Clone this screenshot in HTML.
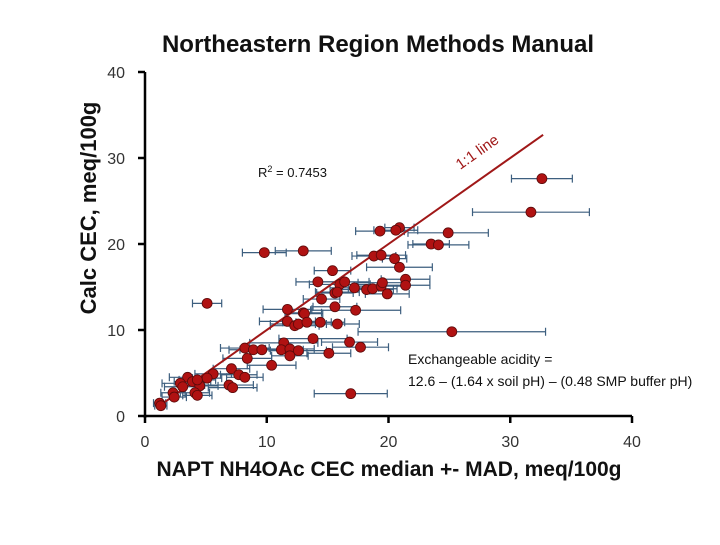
<!DOCTYPE html>
<html><head><meta charset="utf-8"><style>
body{margin:0;background:#fff;}
svg text{font-family:"Liberation Sans",sans-serif;}
</style></head><body>
<svg id="chart" width="720" height="540" xmlns="http://www.w3.org/2000/svg">
<text x="378" y="52" text-anchor="middle" font-size="24" font-weight="bold" fill="#111">Northeastern Region Methods Manual</text>
<text transform="translate(96,208) rotate(-90)" text-anchor="middle" font-size="22" font-weight="bold" fill="#111">Calc CEC, meq/100g</text>
<text x="389" y="476" text-anchor="middle" font-size="21" font-weight="bold" fill="#111">NAPT NH4OAc CEC median +- MAD, meq/100g</text>
<text x="258" y="177" font-size="13" fill="#111">R<tspan font-size="9" dy="-5">2</tspan><tspan dy="5"> = 0.7453</tspan></text>
<text transform="translate(480,156) rotate(-35.2)" text-anchor="middle" font-size="15" fill="#a01818">1:1 line</text>
<text x="408" y="364" font-size="14" fill="#111">Exchangeable acidity =</text>
<text x="408" y="386" font-size="14" fill="#111">12.6 – (1.64 x soil pH) – (0.48 SMP buffer pH)</text>
<g id="axes"></g><g id="bars"></g><g id="line"></g><g id="pts"></g>
</svg>
<script>
const xTicks=[0,10,20,30,40];
const yTicks=[0,10,20,30,40];
const xVals=[32.6,31.7,24.9,20.9,20.6,19.3,23.5,24.1,9.8,13.0,18.8,19.4,20.5,20.9,15.4,14.2,16.0,16.4,17.2,18.2,18.7,19.4,19.5,19.9,21.4,21.4,15.6,15.8,14.5,5.1,15.6,17.3,11.7,13.0,13.1,11.7,12.3,12.6,13.3,14.4,15.8,13.8,16.8,17.7,25.2,11.4,11.2,11.9,12.6,15.1,8.2,8.9,9.6,8.4,11.9,10.4,7.1,5.6,5.1,7.7,8.2,6.9,7.2,3.5,3.9,2.9,3.1,4.5,4.3,2.3,2.4,4.1,4.3,16.9,1.2,1.3];
const yVals=[27.6,23.7,21.3,21.9,21.6,21.5,20.0,19.9,19.0,19.2,18.6,18.7,18.3,17.3,16.9,15.6,15.3,15.6,14.9,14.7,14.8,15.1,15.5,14.2,15.9,15.2,14.3,14.4,13.6,13.1,12.7,12.3,12.4,12.0,11.9,11.0,10.5,10.7,10.9,10.9,10.7,9.0,8.6,8.0,9.8,8.5,7.7,7.8,7.6,7.3,7.9,7.7,7.7,6.7,7.0,5.9,5.5,4.9,4.4,4.8,4.5,3.6,3.3,4.5,4.0,3.8,3.4,3.5,4.2,2.7,2.2,2.7,2.4,2.6,1.5,1.2];
const xErr=[2.5,4.8,3.3,1.2,1.8,2.0,1.5,2.5,1.8,2.3,1.8,2.0,1.0,2.7,1.5,1.8,2.5,2.0,2.0,2.2,2.0,2.0,2.0,1.8,2.0,2.0,1.5,1.8,1.5,1.2,1.8,3.7,2.0,1.5,1.5,2.3,2.0,2.3,2.0,2.0,1.8,2.8,2.3,2.3,7.7,2.8,1.8,2.0,2.3,1.8,2.0,2.0,1.8,2.0,1.5,2.0,1.5,1.5,1.2,1.5,1.5,2.0,2.0,1.5,1.5,1.5,1.5,1.5,1.5,1.0,1.0,1.2,1.2,3.0,0.5,0.5];
const lineRange=[1,32.7];
const NS="http://www.w3.org/2000/svg";
const X0=145,X1=632,Y0=416,Y1=72;
function sx(v){return X0+(v-0)/(40-0)*(X1-X0);}
function sy(v){return Y0-(v-0)/(40-0)*(Y0-Y1);}
function mk(tag,attrs,parent){const e=document.createElementNS(NS,tag);for(const k in attrs)e.setAttribute(k,attrs[k]);document.getElementById(parent).appendChild(e);return e;}
let e;
e=mk('line',{x1:X0,y1:Y0,x2:X1,y2:Y0,stroke:'#000','stroke-width':2.5},'axes');


e=mk('line',{x1:X0,y1:Y0+2,x2:X0,y2:Y1,stroke:'#000','stroke-width':2.5},'axes');


xTicks.forEach(t=>{
 e=mk('line',{x1:sx(t),y1:Y0,x2:sx(t),y2:Y0+7,stroke:'#000','stroke-width':2.5},'axes');
 
 
 e=mk('text',{x:sx(t),y:Y0+31,'text-anchor':'middle','font-size':16,fill:'#333'},'axes');e.textContent=t;
 
 
});
yTicks.forEach(t=>{
 e=mk('line',{x1:X0-7,y1:sy(t),x2:X0,y2:sy(t),stroke:'#000','stroke-width':2.5},'axes');
 
 
 e=mk('text',{x:X0-20,y:sy(t)+6,'text-anchor':'end','font-size':16,fill:'#333'},'axes');e.textContent=t;
 
 
});
e=mk('line',{x1:sx(lineRange[0]),y1:sy(lineRange[0]),x2:sx(lineRange[1]),y2:sy(lineRange[1]),stroke:'#a01818','stroke-width':2},'line');


xVals.forEach((x,i)=>{
 const y=sy(yVals[i]),a=sx(x-xErr[i]),b=sx(x+xErr[i]);
 e=mk('path',{d:`M${a},${y}H${b}M${a},${y-4}V${y+4}M${b},${y-4}V${y+4}`,stroke:'#3d5f7f','stroke-width':1.2,fill:'none'},'bars');
 
 
 e=mk('circle',{cx:sx(x),cy:y,r:5,fill:'#b01212',stroke:'#5a0a0a','stroke-width':0.8},'pts');
 
 
});
</script>
</body></html>
